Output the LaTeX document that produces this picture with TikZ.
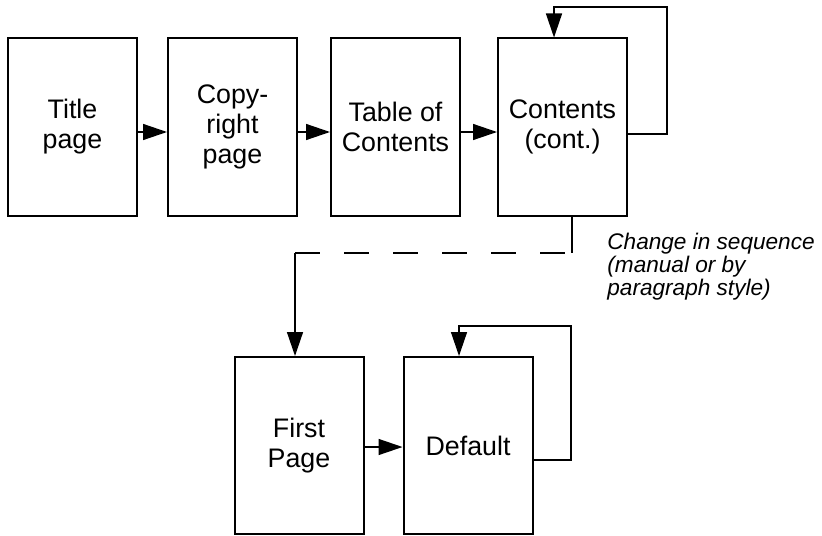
\documentclass[tikz,border=0pt]{standalone}
\usepackage{fontspec}
\setmainfont{Liberation Sans}
\usetikzlibrary{arrows.meta}

\begin{document}
\begin{tikzpicture}[x=0.5pt,y=-0.5pt,
  pagebox/.style={draw,line width=1pt,minimum width=64.5pt,minimum height=88.5pt,
    align=center,inner sep=0pt,font=\fontsize{13.4}{15}\selectfont},
  link/.style={line width=0.7pt,-{Triangle[length=12pt,width=8pt]}},
  plain/.style={line width=0.7pt}]

\useasboundingbox (0,0) rectangle (822,535);

% first row
\node[pagebox] (title) at (72.5,127) {Title\\page};
\node[pagebox] (copy) at (232.5,127) {Copy-\\right\\page};
\node[pagebox] (toc) at (395.5,127) {Table of\\Contents};
\node[pagebox] (cont) at (562.5,127) {Contents\\(cont.)};

\draw[link] ([yshift=-2.5pt]title.east) -- ([yshift=-2.5pt]copy.west);
\draw[link] ([yshift=-2.5pt]copy.east) -- ([yshift=-2.5pt]toc.west);
\draw[link] ([yshift=-2.5pt]toc.east) -- ([yshift=-2.5pt]cont.west);

% loop on contents
\coordinate (contloop) at (667,7);
\draw[link] ([yshift=-3.5pt]cont.east) -| (contloop) -| ([xshift=-4.25pt]cont.north);

% second row
\node[pagebox] (first) at (299,445.5) {First\\Page};
\node[pagebox] (default) at (468,445.5) {Default};

\draw[link] ([yshift=-0.75pt]first.east) -- ([yshift=-0.75pt]default.west);

% loop on default
\coordinate (defloop) at (571,326);
\draw[link] ([yshift=-7.25pt]default.east) -| (defloop) -| ([xshift=-4.5pt]default.north);

% change in sequence
\coordinate (bendA) at (572,253);
\coordinate (bendB) at (295,253);
\draw[plain] ([xshift=4.75pt]cont.south) -- (bendA);
\draw[plain,dash pattern=on 12.5pt off 12pt] (bendB) -- (bendA);
\draw[link] (bendB) -- (bendB |- first.north);

\node[anchor=north west,align=left,inner sep=0pt,font=\fontsize{11.3}{9.8}\selectfont\itshape]
  (note) at (607,233) {Change in sequence\\(manual or by\\paragraph style)};

\end{tikzpicture}
\end{document}
